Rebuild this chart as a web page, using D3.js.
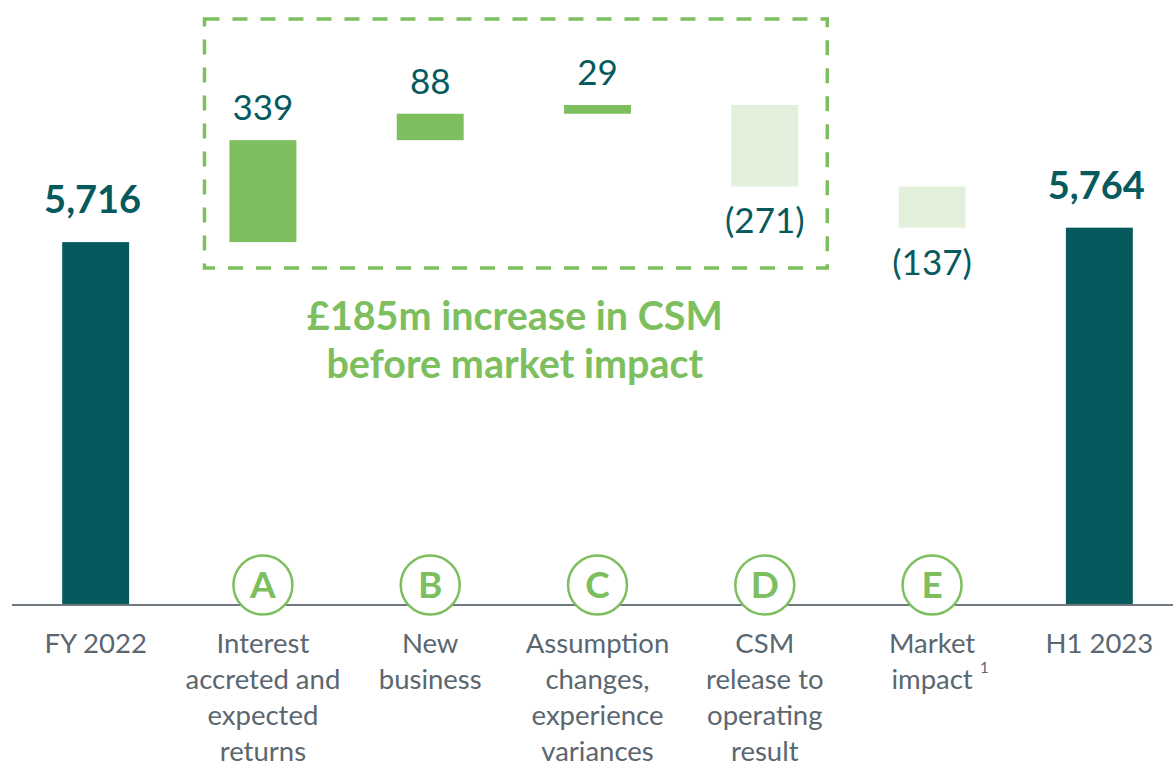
<!DOCTYPE html>
<html>
<head>
<meta charset="utf-8">
<script src="https://cdn.jsdelivr.net/npm/d3@7"></script>
<style>
  body { margin: 0; background: #fff; }
  svg { display: block; font-family: Lato, "Open Sans", sans-serif; }
</style>
</head>
<body>
<script>
// data
var categories = ['FY 2022', 'A', 'B', 'C', 'D', 'E', 'H1 2023'];
var labelLines = [
  ['FY 2022'],
  ['Interest', 'accreted and', 'expected', 'returns'],
  ['New', 'business'],
  ['Assumption', 'changes,', 'experience', 'variances'],
  ['CSM', 'release to', 'operating', 'result'],
  ['Market', 'impact'],
  ['H1 2023']
];
var kinds = ['total', 'delta', 'delta', 'delta', 'delta', 'delta', 'total'];
var values = [5716, 339, 88, 29, -271, -137, 5764];
var letters = ['', 'A', 'B', 'C', 'D', 'E', ''];
var valueLabels = ['5,716', '339', '88', '29', '(271)', '(137)', '5,764'];
var note = ['£185m increase in CSM', 'before market impact'];

var teal = '#065a5e', green = '#7dbe5e', pale = '#e2f0dc', grey = '#5b6770';

var W = 1173, H = 769;

var svg = d3.select('body').append('svg')
    .attr('width', W)
    .attr('height', H);

// waterfall steps
var run = 0;
var steps = values.map(function(v, i) {
  var s;
  if (kinds[i] === 'total') { s = {y0: 4509, y1: v}; run = v; }
  else { s = {y0: run, y1: run + v}; run += v; }
  s.i = i; s.v = v; s.kind = kinds[i];
  return s;
});

var x = d3.scaleBand()
    .domain(categories)
    .range([12, 1183])
    .paddingInner(0.6)
    .paddingOuter(0.3);

var y = d3.scaleLinear()
    .domain([4509, 6172])
    .range([605, 105]);

function fillFor(d) {
  if (d.kind === 'total') return teal;
  return d.v > 0 ? green : pale;
}

// dashed box around A-D
var bx0 = x('A') - 25, bx1 = x('D') + x.bandwidth() + 29;
svg.append('rect')
    .attr('x', bx0)
    .attr('y', 19)
    .attr('width', bx1 - bx0)
    .attr('height', 249)
    .attr('fill', 'none')
    .attr('stroke', green)
    .attr('stroke-width', 3.5)
    .attr('stroke-dasharray', '15,13');

svg.selectAll('.bar')
    .data(steps)
    .enter().append('rect')
    .attr('class', 'bar')
    .attr('x', function(d) { return x(categories[d.i]); })
    .attr('width', x.bandwidth())
    .attr('y', function(d) { return y(Math.max(d.y0, d.y1)); })
    .attr('height', function(d) { return Math.abs(y(d.y0) - y(d.y1)); })
    .attr('fill', fillFor);

// axis line
svg.append('line')
    .attr('x1', 12).attr('x2', W)
    .attr('y1', y(4509)).attr('y2', y(4509))
    .attr('stroke', '#6d7880')
    .attr('stroke-width', 2);

// value labels
svg.selectAll('.val')
    .data(steps)
    .enter().append('text')
    .attr('class', 'val')
    .attr('x', function(d) { return x(categories[d.i]) + x.bandwidth() / 2 - (d.kind === 'total' ? 3 : 0); })
    .attr('y', function(d) {
      if (d.kind === 'total') return y(d.y1) - 29;
      if (d.v > 0) return y(d.y1) - 20;
      return y(d.y1) + 47;
    })
    .attr('text-anchor', 'middle')
    .attr('fill', teal)
    .attr('font-size', function(d) { return d.kind === 'total' ? 38 : 35; })
    .attr('font-weight', function(d) { return d.kind === 'total' ? 'bold' : 'normal'; })
    .text(function(d) { return valueLabels[d.i]; });

// lettered circles
var circ = svg.selectAll('.letter')
    .data(steps.filter(function(d) { return letters[d.i]; }))
    .enter().append('g')
    .attr('class', 'letter')
    .attr('transform', function(d) {
      return 'translate(' + (x(categories[d.i]) + x.bandwidth() / 2) + ',585)';
    });

circ.append('circle')
    .attr('r', 29.5)
    .attr('fill', '#fff')
    .attr('stroke', green)
    .attr('stroke-width', 2.5);

circ.append('text')
    .attr('y', 13)
    .attr('text-anchor', 'middle')
    .attr('font-size', 37)
    .attr('font-weight', 'bold')
    .attr('fill', green)
    .text(function(d) { return letters[d.i]; });

// category labels
var cat = svg.selectAll('.cat')
    .data(steps)
    .enter().append('text')
    .attr('class', 'cat')
    .attr('x', function(d) { return x(categories[d.i]) + x.bandwidth() / 2; })
    .attr('y', 653)
    .attr('text-anchor', 'middle')
    .attr('font-size', 27.5)
    .attr('fill', grey);

cat.selectAll('tspan')
    .data(function(d) { return labelLines[d.i].map(function(t) { return {t: t, i: d.i}; }); })
    .enter().append('tspan')
    .attr('x', function(d) { return x(categories[d.i]) + x.bandwidth() / 2; })
    .attr('dy', function(d, j) { return j === 0 ? 0 : 36; })
    .text(function(d) { return d.t; });

// footnote marker on market impact
svg.append('text')
    .attr('x', x('E') + x.bandwidth() / 2 + 48)
    .attr('y', 673)
    .attr('font-size', 15)
    .attr('fill', grey)
    .text('1');

// note below the box
svg.append('g').selectAll('text')
    .data(note)
    .enter().append('text')
    .attr('x', (bx0 + bx1) / 2 - 1)
    .attr('y', function(d, i) { return 330 + i * 48; })
    .attr('text-anchor', 'middle')
    .attr('font-size', 39.5)
    .attr('font-weight', 'bold')
    .attr('fill', green)
    .text(function(d) { return d; });
</script>
</body>
</html>
